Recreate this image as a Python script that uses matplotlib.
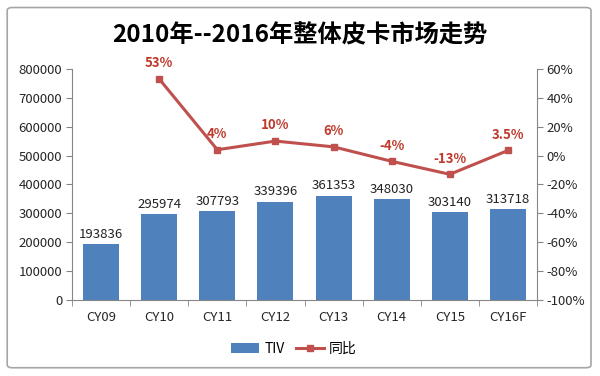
import matplotlib.pyplot as plt
from matplotlib.patches import FancyBboxPatch
from matplotlib.lines import Line2D
from matplotlib.patches import Patch
import numpy as np

plt.rcParams['font.family'] = ['Noto Sans CJK SC', 'DejaVu Sans']

categories = ['CY09', 'CY10', 'CY11', 'CY12', 'CY13', 'CY14', 'CY15', 'CY16F']
tiv = [193836, 295974, 307793, 339396, 361353, 348030, 303140, 313718]
yoy = [None, 53, 4, 10, 6, -4, -13, 3.5]
yoy_labels = ['', '53%', '4%', '10%', '6%', '-4%', '-13%', '3.5%']

bar_color = '#4F81BD'
line_color = '#C0504D'
axis_gray = '#868686'
fs = 9.5

fig = plt.figure(figsize=(6, 3.76), dpi=100)
fig.patch.set_facecolor('white')

# outer chart border
border = FancyBboxPatch((0.012, 0.022), 0.973, 0.958, boxstyle='round,pad=0,rounding_size=0.008',
                        transform=fig.transFigure, fill=False, edgecolor='#A6A6A6', linewidth=1.2)
fig.patches.append(border)

ax = fig.add_axes([0.12, 0.202, 0.775, 0.615])
x = np.arange(len(categories))
ax.bar(x, tiv, width=0.62, color=bar_color, zorder=2)
ax.set_xlim(-0.5, len(categories) - 0.5)
ax.set_ylim(0, 800000)
ax.set_yticks(np.arange(0, 800001, 100000))
ax.set_yticklabels([str(v) for v in range(0, 800001, 100000)])
ax.set_xticks(x)
ax.set_xticklabels(categories)
ax.set_xticks(np.arange(-0.5, len(categories), 1), minor=True)
ax.tick_params(axis='x', which='major', length=0, pad=8, labelsize=fs, labelcolor='#262626')
ax.tick_params(axis='x', which='minor', length=4, direction='out', color=axis_gray)
ax.tick_params(axis='y', length=4, direction='out', color=axis_gray, labelsize=fs, pad=3, labelcolor='#262626')
for s in ['top', 'right']:
    ax.spines[s].set_visible(False)
ax.spines['left'].set_color(axis_gray)
ax.spines['bottom'].set_color(axis_gray)

for xi, v in zip(x, tiv):
    ax.text(xi, v + 12000, str(v), ha='center', va='bottom', fontsize=fs, color='#222222')

ax2 = ax.twinx()
ax2.set_ylim(-100, 60)
ax2.set_yticks(np.arange(-100, 61, 20))
ax2.set_yticklabels([f'{v}%' for v in range(-100, 61, 20)])
ax2.tick_params(axis='y', length=4, direction='out', color=axis_gray, labelsize=fs, pad=3, labelcolor='#262626')
for s in ['top', 'left', 'bottom']:
    ax2.spines[s].set_visible(False)
ax2.spines['right'].set_color(axis_gray)

lx = [xi for xi, v in zip(x, yoy) if v is not None]
ly = [v for v in yoy if v is not None]
ax2.plot(lx, ly, color=line_color, linewidth=2.2, marker='s', markersize=5, zorder=3)
for xi, v, lab in zip(x, yoy, yoy_labels):
    if v is None:
        continue
    ax2.text(xi, v + 6, lab, ha='center', va='bottom', fontsize=fs, fontweight='bold', color='#C0392B')

fig.text(0.5, 0.905, '2010年--2016年整体皮卡市场走势', ha='center', va='center',
         fontsize=17.5, fontweight='bold', color='black')

handles = [Patch(facecolor=bar_color), Line2D([0], [0], color=line_color, lw=2.2, marker='s', markersize=5)]
fig.legend(handles, ['TIV', '同比'], loc='center', bbox_to_anchor=(0.49, 0.072), ncol=2,
           frameon=False, fontsize=10, handlelength=2.0, handleheight=0.7, columnspacing=0.8, handletextpad=0.4)

fig.savefig('out.png', dpi=100)
